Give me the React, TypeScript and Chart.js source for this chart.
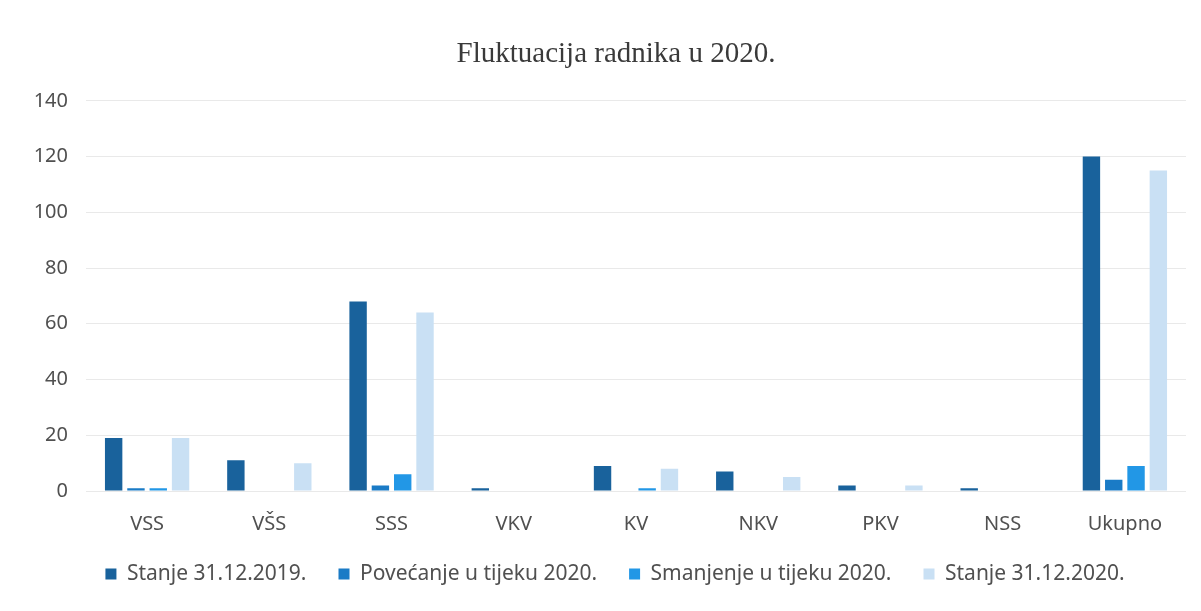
import React, { useEffect, useRef } from "react";
import { Chart, registerables } from "chart.js";

Chart.register(...registerables);

const categories = ["VSS", "VŠS", "SSS", "VKV", "KV", "NKV", "PKV", "NSS", "Ukupno"];
const stanje2019 = [19, 11, 68, 1, 9, 7, 2, 1, 120];
const povecanje2020 = [1, 0, 2, 0, 0, 0, 0, 0, 4];
const smanjenje2020 = [1, 0, 6, 0, 1, 0, 0, 0, 9];
const stanje2020 = [19, 10, 64, 0, 8, 5, 2, 0, 115];
const yTicks = [0, 20, 40, 60, 80, 100, 120, 140];

const seriesNames = [
  "Stanje 31.12.2019.",
  "Povećanje u tijeku 2020.",
  "Smanjenje u tijeku 2020.",
  "Stanje 31.12.2020.",
];
const seriesColors = ["#19629c", "#1a7bc6", "#2297e6", "#c9e0f4"];

function shiftBox(chart: any, box: any, dx: number, dy: number) {
  if (!box || box.__shifted) return;
  const orig = box.draw.bind(box);
  box.draw = function (...args: any[]) {
    const ctx = chart.ctx;
    ctx.save();
    ctx.translate(dx, dy);
    orig(...args);
    ctx.restore();
  };
  box.__shifted = true;
}

// nudges legend and title drawing to match the reference placement
const boxShift = {
  id: "boxShift",
  afterLayout(chart: any) {
    shiftBox(chart, chart.legend, 14, -9.5);
    shiftBox(chart, chart.titleBlock, 15, 2);
  },
};

export default function App() {
  const ref = useRef<HTMLCanvasElement | null>(null);

  useEffect(() => {
    if (!ref.current) return;
    const values = [stanje2019, povecanje2020, smanjenje2020, stanje2020];
    const chart = new Chart(ref.current, {
      type: "bar",
      data: {
        labels: categories,
        datasets: values.map((v, i) => ({
          label: seriesNames[i],
          data: v,
          backgroundColor: seriesColors[i],
          borderWidth: 0,
          categoryPercentage: 0.73,
          barPercentage: 0.78,
        })),
      },
      plugins: [boxShift],
      options: {
        animation: false,
        responsive: false,
        maintainAspectRatio: false,
        layout: { padding: { left: 16, right: 15, top: 0, bottom: 7 } },
        plugins: {
          title: {
            display: true,
            text: "Fluktuacija radnika u 2020.",
            color: "#3a3a3a",
            font: { family: "Liberation Serif", size: 29, weight: "normal" },
            padding: { top: 35, bottom: 31 },
          },
          legend: {
            position: "bottom",
            labels: {
              color: "#505050",
              font: { family: "Noto Sans", size: 21 },
              boxWidth: 11,
              boxHeight: 11,
              padding: 32,
            },
          },
          tooltip: { enabled: false },
        },
        scales: {
          x: {
            afterFit: (scale: any) => {
              scale.height = 50;
            },
            grid: { display: false, drawTicks: false },
            border: { display: false },
            ticks: {
              color: "#505050",
              font: { family: "Noto Sans", size: 20 },
              padding: 21,
            },
          },
          y: {
            min: 0,
            max: 140,
            afterBuildTicks: (axis: any) => {
              axis.ticks = yTicks.map((v) => ({ value: v }));
            },
            afterFit: (scale: any) => {
              scale.width = 70;
            },
            grid: { color: "#e9e9e9", drawTicks: false },
            border: { display: false },
            ticks: {
              color: "#505050",
              font: { family: "Noto Sans", size: 20 },
              padding: 18,
            },
          },
        },
      },
    });
    return () => chart.destroy();
  }, []);

  return (
    <div style={{ position: "fixed", left: 0, top: 0, width: 1201, height: 611, background: "#fff" }}>
      <canvas ref={ref} width={1201} height={611} style={{ width: 1201, height: 611 }} />
    </div>
  );
}
